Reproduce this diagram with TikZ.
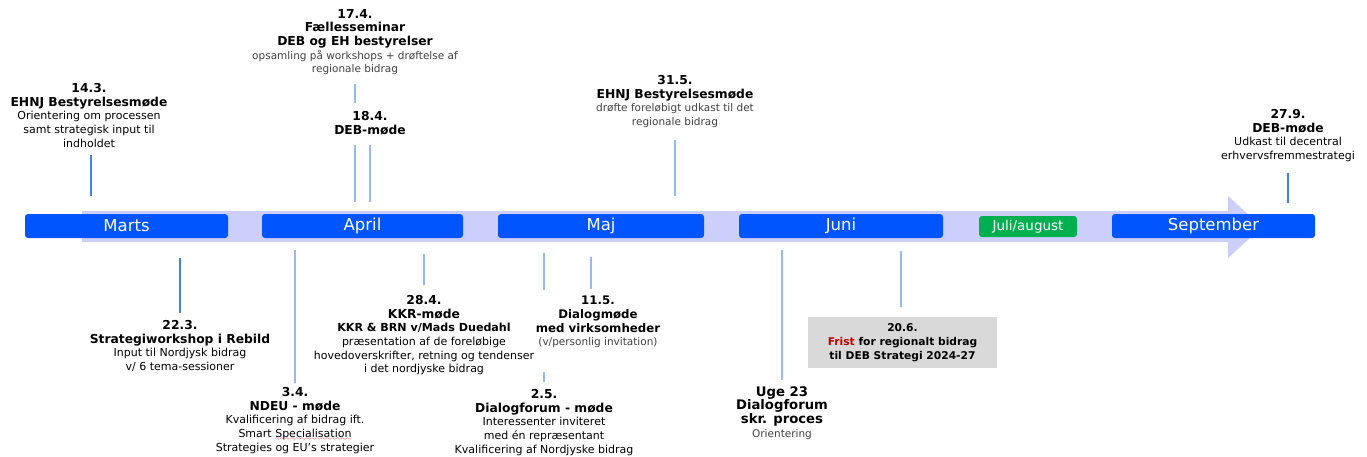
\documentclass[tikz,border=0pt]{standalone}
\usepackage{fontspec}
\setmainfont{DejaVu Sans}
\definecolor{mblue}{RGB}{0,85,255}
\definecolor{mgreen}{RGB}{0,176,80}
\definecolor{lav}{RGB}{204,207,250}
\definecolor{tickd}{RGB}{70,125,242}
\definecolor{tickl}{RGB}{150,185,246}
\definecolor{dgray}{RGB}{64,64,64}
\definecolor{boxgray}{RGB}{217,217,217}
\definecolor{frist}{RGB}{192,0,0}
\font\sixlyx=lasy6
\newcommand\redwave[1]{\setbox0\hbox{#1}\rlap{\textcolor{red}{\lower3pt\hbox to\wd0{\xleaders\hbox{\sixlyx\char58}\hfil}}}\box0}
\newcommand\fr{\fontsize{11}{13.7}\selectfont}
\newcommand\bt[1]{{\bfseries\fontsize{12.3}{14}\selectfont #1}}
\newcommand\btm[1]{{\bfseries\fontsize{11.8}{14.3}\selectfont #1}}
\newcommand\btl[1]{{\bfseries\fontsize{13.2}{15}\selectfont #1}}
\newcommand\bts[1]{{\bfseries\fontsize{10.7}{13}\selectfont #1}}
\newcommand\gt[1]{{\color{dgray}\fontsize{10.5}{13.5}\selectfont #1}}
\tikzset{
  lbl/.style={align=center, inner sep=0pt, anchor=north, font=\fr},
  month/.style={fill=mblue, rounded corners=3pt, text=white, font=\fontsize{16.5}{18}\selectfont, inner sep=0pt, minimum height=24},
  tickd/.style={draw=tickd, line width=1.2pt},
  tickl/.style={draw=tickl, line width=1.2pt}
}
\begin{document}
\begin{tikzpicture}[x=1pt,y=-1pt]
\useasboundingbox (0,0) rectangle (1367,456);
% timeline arrow
\fill[lav] (82,211) -- (1228,211) -- (1228,196) -- (1262,227) -- (1228,258) -- (1228,242) -- (82,242) -- cycle;
% months
\node[month, minimum width=203] (marts) at (126.5,226) {Marts};
\node[month, minimum width=201] (april) at (362.5,226) {April};
\node[month, minimum width=206] (maj) at (601,226) {Maj};
\node[month, minimum width=204] (juni) at (841,226) {Juni};
\node[month, fill=mgreen, minimum width=98, minimum height=21, font=\fontsize{13.5}{15}\selectfont] (juli) at (1028,226.5) {Juli/august};
\node[month, minimum width=203] (sept) at (1213.5,226) {September};
% top labels
\node[lbl] (n143) at (89,83) {\bt{14.3.}\\\bt{EHNJ Bestyrelsesmøde}\\Orientering om processen\\samt strategisk input til\\indholdet};
\node[lbl] (n174) at (355,9) {\bt{17.4.}\\\bt{Fællesseminar}\\\bt{DEB og EH bestyrelser}\\\gt{opsamling på workshops + drøftelse af}\\\gt{regionale bidrag}};
\node[lbl] (n184) at (370,111) {\bt{18.4.}\\\bt{DEB-møde}};
\node[lbl] (n315) at (675,75) {\bt{31.5.}\\\bt{EHNJ Bestyrelsesmøde}\\\gt{drøfte foreløbigt udkast til det}\\\gt{regionale bidrag}};
\node[lbl] (n279) at (1288,109) {\bt{27.9.}\\\bt{DEB-møde}\\Udkast til decentral\\erhvervsfremmestrategi};
% bottom labels
\node[lbl] (n223) at (180,320) {\bt{22.3.}\\\bt{Strategiworkshop i Rebild}\\Input til Nordjysk bidrag\\v/ 6 tema-sessioner};
\node[lbl] (n34) at (295,387) {\bt{3.4.}\\\bt{NDEU - møde}\\Kvalificering af bidrag ift.\\Smart \redwave{Specialisation}\\Strategies og EU's strategier};
\node[lbl] (n284) at (424,295) {\bt{28.4.}\\\bt{KKR-møde}\\{\bfseries\fontsize{11.1}{13}\selectfont KKR \& BRN v/Mads Duedahl}\\præsentation af de foreløbige\\hovedoverskrifter, retning og tendenser\\i det nordjyske bidrag};
\node[lbl] (n115) at (598,296) {\btm{11.5.}\\\btm{Dialogmøde}\\\btm{med virksomheder}\\\gt{(v/personlig invitation)}};
\node[lbl] (n25) at (544,389) {\bt{2.5.}\\\bt{Dialogforum - møde}\\Interessenter inviteret\\med én repræsentant\\Kvalificering af Nordjyske bidrag};
\node[lbl] (nu23) at (782,386) {\btl{Uge 23}\\\btl{Dialogforum}\\\btl{skr. proces}\\\gt{Orientering}};
\node[fill=boxgray, minimum width=189, minimum height=51, inner sep=0pt, align=center, font=\fr] (n206) at (902.5,342.5) {\bts{20.6.}\\\bts{\textcolor{frist}{Frist} for regionalt bidrag}\\\bts{til DEB Strategi 2024-27}};
% tick coordinates
\coordinate (a1) at (91,155); \coordinate (b1) at (91,196);
\coordinate (a2) at (355,84); \coordinate (b2) at (355,103);
\coordinate (a3) at (355,145); \coordinate (b3) at (355,202);
\coordinate (a4) at (370,145); \coordinate (b4) at (370,202);
\coordinate (a5) at (675,140); \coordinate (b5) at (675,196);
\coordinate (a6) at (1288,173); \coordinate (b6) at (1288,203);
\coordinate (a7) at (180,258); \coordinate (b7) at (180,313);
\coordinate (a8) at (295,250); \coordinate (b8) at (295,383);
\coordinate (a9) at (424,254); \coordinate (b9) at (424,285);
\coordinate (a10) at (544,253); \coordinate (b10) at (544,290);
\coordinate (a11) at (544,372); \coordinate (b11) at (544,382);
\coordinate (a12) at (591,257); \coordinate (b12) at (591,289);
\coordinate (a13) at (782,250); \coordinate (b13) at (782,380);
\coordinate (a14) at (901,251); \coordinate (b14) at (901,307);
\draw[tickd] (a1) -- (b1);
\draw[tickl] (a2) -- (b2);
\draw[tickl] (a3) -- (b3);
\draw[tickl] (a4) -- (b4);
\draw[tickl] (a5) -- (b5);
\draw[tickd] (a6) -- (b6);
\draw[tickd] (a7) -- (b7);
\draw[tickl] (a8) -- (b8);
\draw[tickl] (a9) -- (b9);
\draw[tickl] (a10) -- (b10);
\draw[tickl] (a11) -- (b11);
\draw[tickl] (a12) -- (b12);
\draw[tickl] (a13) -- (b13);
\draw[tickl] (a14) -- (b14);
\end{tikzpicture}
\end{document}
